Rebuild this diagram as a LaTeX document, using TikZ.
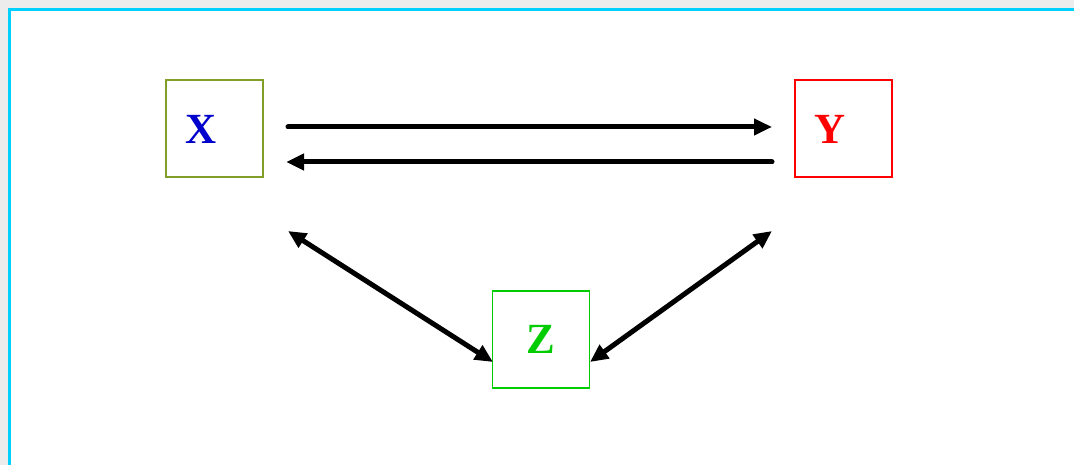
\documentclass[tikz,border=0pt]{standalone}
\usepackage{fontspec}
\setmainfont{Liberation Serif}
\usetikzlibrary{arrows.meta}
\definecolor{framecyan}{RGB}{0,208,255}
\definecolor{pagegray}{RGB}{236,236,236}
\definecolor{xblue}{RGB}{0,0,205}
\definecolor{xolive}{RGB}{128,158,40}
\definecolor{zgreen}{RGB}{0,204,0}
\tikzset{
  labelfont/.style={font=\fontsize{43}{43}\selectfont\bfseries},
  varbox/.style={draw, line width=1.8pt, minimum width=97pt, minimum height=97pt,
    inner sep=0pt, labelfont},
  tip/.tip={Triangle[length=18pt,width=16pt]},
  link/.style={line width=5pt, line cap=round, -tip},
  twoway/.style={line width=5pt, line cap=round, tip-tip}
}
\begin{document}
\begin{tikzpicture}[x=1pt,y=-1pt]
  \useasboundingbox (0,0) rectangle (1074,465);
  % page and frame
  \fill[pagegray] (0,0) rectangle (1074,465);
  \fill[white] (9.5,9.5) rectangle (1080,470);
  \draw[framecyan, line width=3.2pt] (9.5,480) -- (9.5,9.5) -- (1090,9.5);

  % variables
  \node[varbox, draw=xolive] (X) at (214.5,128.5) {};
  \node[text=xblue, labelfont] (xl) at (201,129) {X};
  \node[varbox, draw=red] (Y) at (843.5,128.5) {};
  \node[text=red, labelfont] (yl) at (830,129) {Y};
  \node[varbox, draw=zgreen, text=zgreen] (Z) at (541,339.5) {Z};

  % free ends of the connectors
  \coordinate (xr1) at (288,127);
  \coordinate (yl1) at (772,127);
  \coordinate (yl2) at (772,162);
  \coordinate (xr2) at (286,162);
  \coordinate (xd) at (288,231);
  \coordinate (yd) at (772,231);
  \coordinate (zw) at (493,362);
  \coordinate (ze) at (590,362);

  \draw[link] (xr1) -- (yl1);
  \draw[link] (yl2) -- (xr2);
  \draw[twoway] (xd) -- (zw);
  \draw[twoway] (yd) -- (ze);
\end{tikzpicture}
\end{document}
